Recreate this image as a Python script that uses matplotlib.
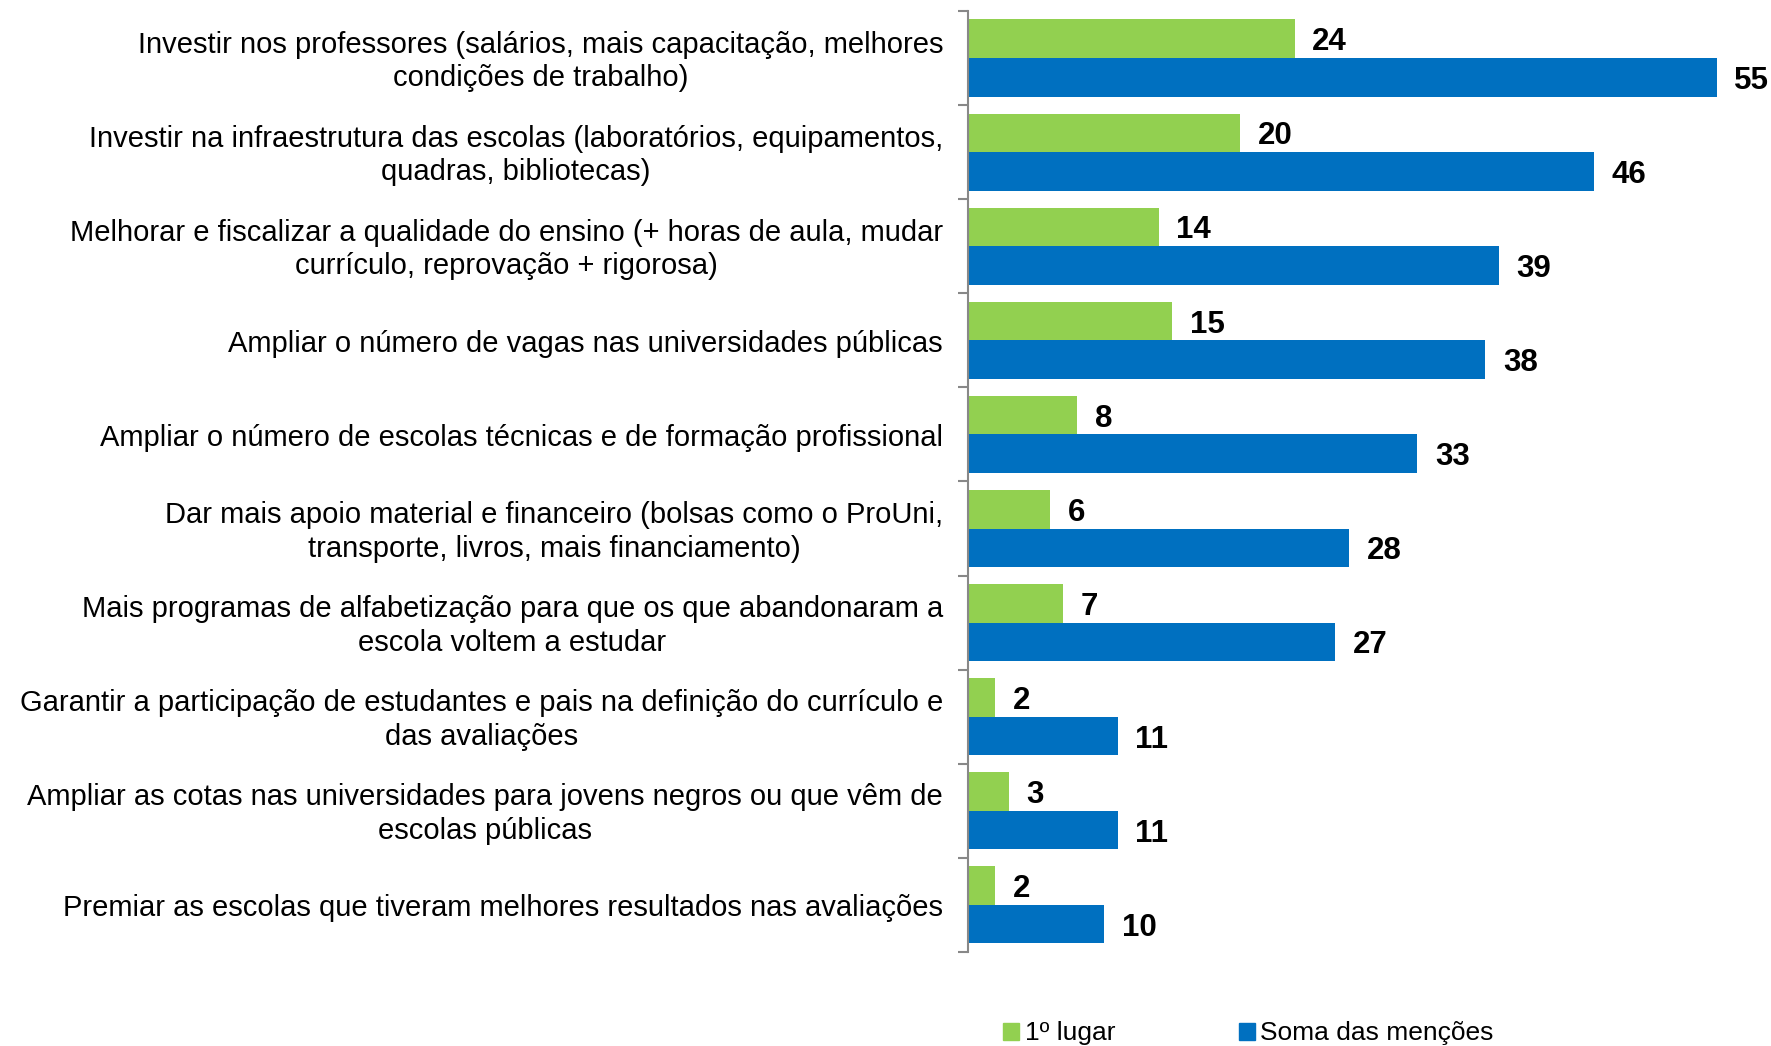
import matplotlib.pyplot as plt
import numpy as np
from matplotlib.patches import Patch

plt.rcParams['font.family'] = ['Liberation Sans', 'DejaVu Sans']

# data
categories = [
    "Investir nos professores (salários, mais capacitação, melhores\ncondições de trabalho)",
    "Investir na infraestrutura das escolas (laboratórios, equipamentos,\nquadras, bibliotecas)",
    "Melhorar e fiscalizar a qualidade do ensino (+ horas de aula, mudar\ncurrículo, reprovação + rigorosa)",
    "Ampliar o número de vagas nas universidades públicas",
    "Ampliar o número de escolas técnicas e de formação profissional",
    "Dar mais apoio material e financeiro (bolsas como o ProUni,\ntransporte, livros, mais financiamento)",
    "Mais programas de alfabetização para que os que abandonaram a\nescola voltem a estudar",
    "Garantir a participação de estudantes e pais na definição do currículo e\ndas avaliações",
    "Ampliar as cotas nas universidades para jovens negros ou que vêm de\nescolas públicas",
    "Premiar as escolas que tiveram melhores resultados nas avaliações",
]
primeiro = [24, 20, 14, 15, 8, 6, 7, 2, 3, 2]
soma = [55, 46, 39, 38, 33, 28, 27, 11, 11, 10]
series_names = ["1º lugar", "Soma das menções"]

green = '#92D050'
blue = '#0070C0'

fig = plt.figure(figsize=(17.71, 10.46), dpi=100)
ax = fig.add_axes([0.5466, 0.0899, 0.4534, 0.8996])

pos = np.arange(len(categories))
h = 0.41
b1 = ax.barh(pos - h / 2, primeiro, height=h, color=green)
b2 = ax.barh(pos + h / 2, soma, height=h, color=blue)

for bars, vals in ((b1, primeiro), (b2, soma)):
    for bar, v in zip(bars, vals):
        ax.text(bar.get_width() + 1.3, bar.get_y() + bar.get_height() / 2, str(v),
                va='center_baseline', ha='left', fontsize=22.5, fontweight='bold')

ax.set_ylim(len(categories) - 0.5, -0.5)
ax.set_xlim(0, 59)

# labels sit a touch below the group centre in the original
ax.set_yticks(pos + 0.035)
ax.set_yticklabels(categories, fontsize=21)
ax.set_yticks(np.arange(-0.5, len(categories)), minor=True)
ax.tick_params(axis='y', which='major', length=0, pad=18)
ax.tick_params(axis='y', which='minor', length=7, width=1.5, color='#888888', direction='out')
for lab in ax.get_yticklabels():
    lab.set_multialignment('center')
    lab.set_linespacing(1.25)
    lab.set_verticalalignment('center')

ax.set_xticks([])
for s in ['top', 'right', 'bottom']:
    ax.spines[s].set_visible(False)
ax.spines['left'].set_color('#888888')
ax.spines['left'].set_linewidth(1.5)

handles = [Patch(color=green), Patch(color=blue)]
fig.legend(handles, series_names, loc='center', bbox_to_anchor=(0.705, 0.012), ncol=2,
           frameon=False, fontsize=19, handlelength=0.6, handleheight=0.6,
           handletextpad=0.2, columnspacing=4.7)

fig.savefig('out.png', dpi=100)
